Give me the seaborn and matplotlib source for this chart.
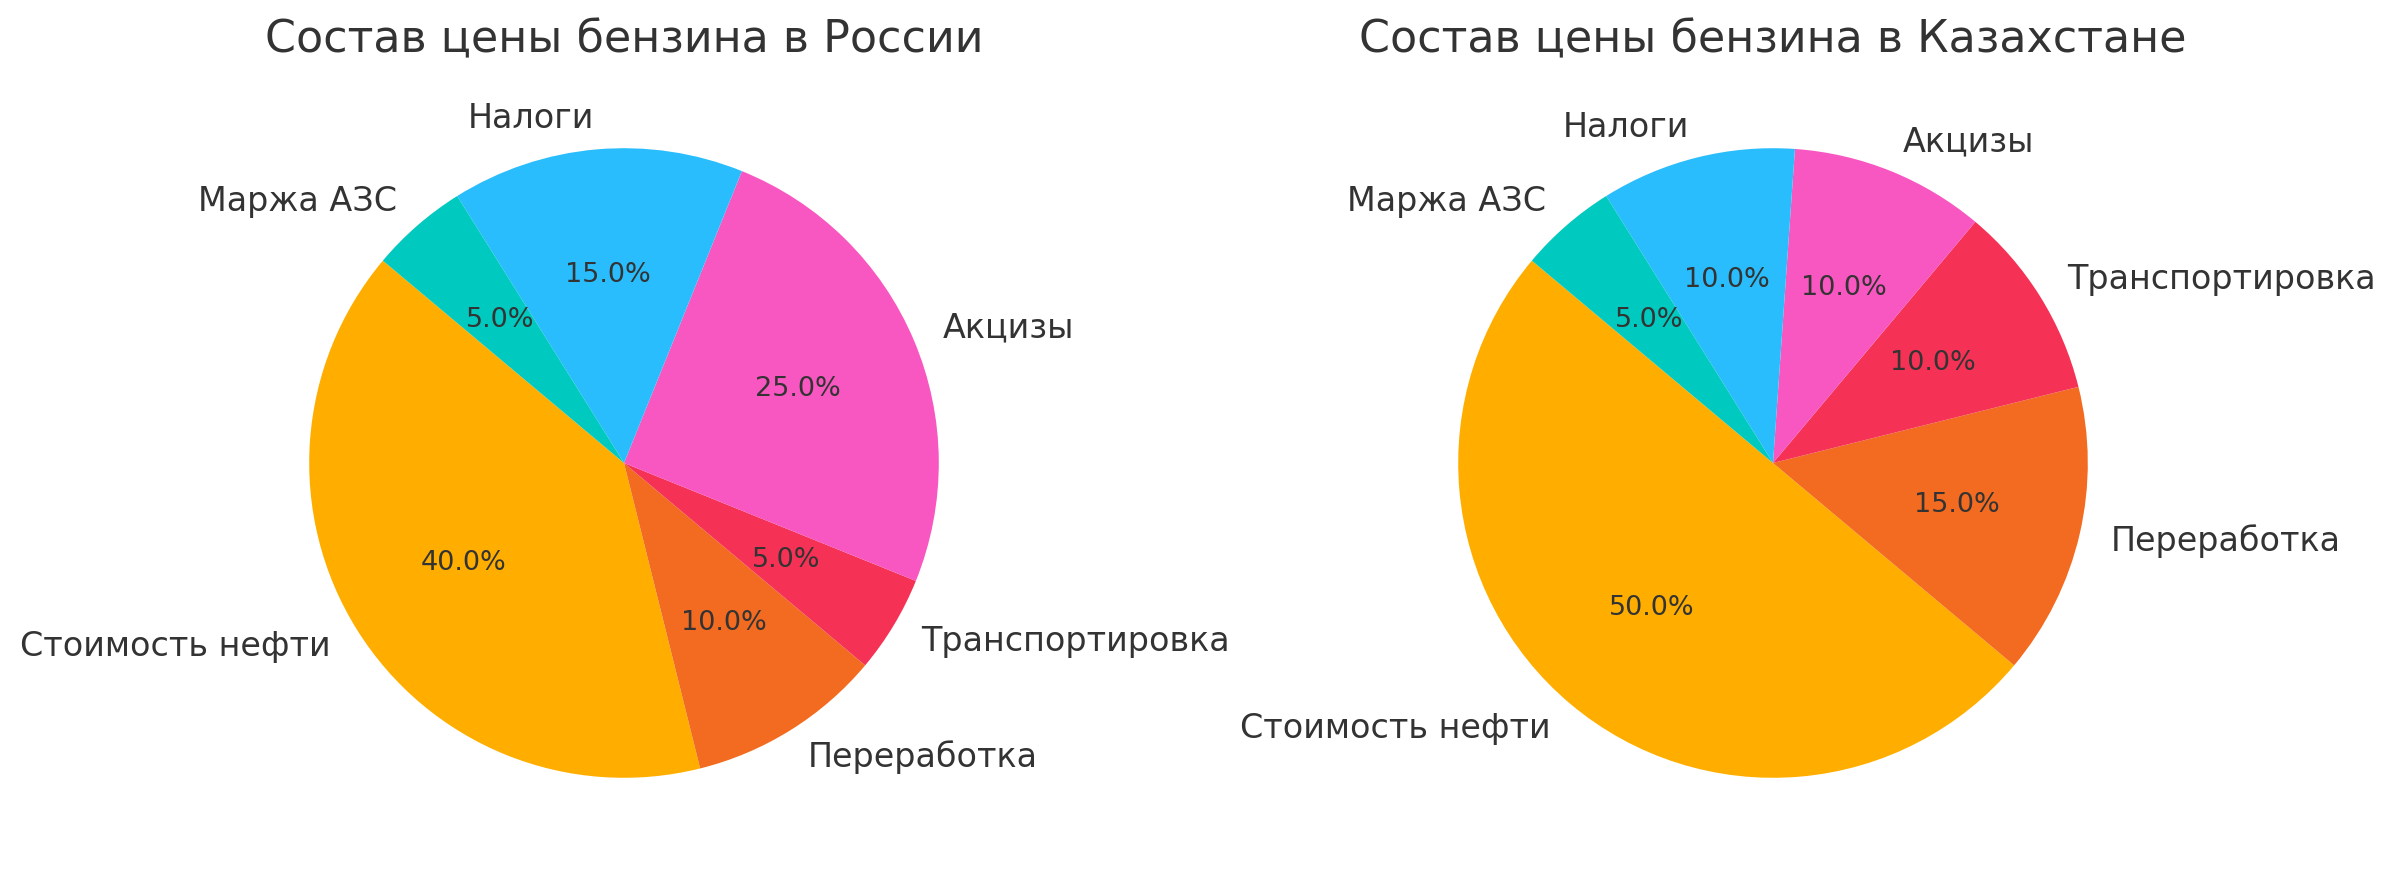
import matplotlib
matplotlib.use("Agg")
import matplotlib.pyplot as plt
import seaborn as sns

sns.set_theme(style="white")
plt.rcParams['font.family'] = ['DejaVu Sans']

categories = ["Стоимость нефти", "Переработка", "Транспортировка", "Акцизы", "Налоги", "Маржа АЗС"]
russia_values = [40, 10, 5, 25, 15, 5]
kazakhstan_values = [50, 15, 10, 10, 10, 5]
titles = ["Состав цены бензина в России", "Состав цены бензина в Казахстане"]
colors = ["#FFAE00", "#F26B21", "#F53255", "#F857C1", "#29BDFD", "#00CABF"]

W, H = 2394, 877
dpi = 150
fig = plt.figure(figsize=(W / dpi, H / dpi), dpi=dpi)

side = 787
centers = [(624, 463), (1773, 463)]
for (cx, cy), vals, title in zip(centers, [russia_values, kazakhstan_values], titles):
    left = (cx - side / 2) / W
    bottom = (H - cy - side / 2) / H
    ax = fig.add_axes([left, bottom, side / W, side / H])
    wedges, texts, autotexts = ax.pie(
        vals, labels=categories, colors=colors, startangle=140,
        autopct="%1.1f%%", textprops={"color": "#333333"},
        wedgeprops={"linewidth": 0, "edgecolor": "none"})
    for t in texts:
        t.set_fontsize(16)
    for t in autotexts:
        t.set_fontsize(13)
    ax.set_title(title, fontsize=21.3, color="#333333", pad=8)
    ax.set_aspect("equal")

fig.savefig("out.png", dpi=dpi)
